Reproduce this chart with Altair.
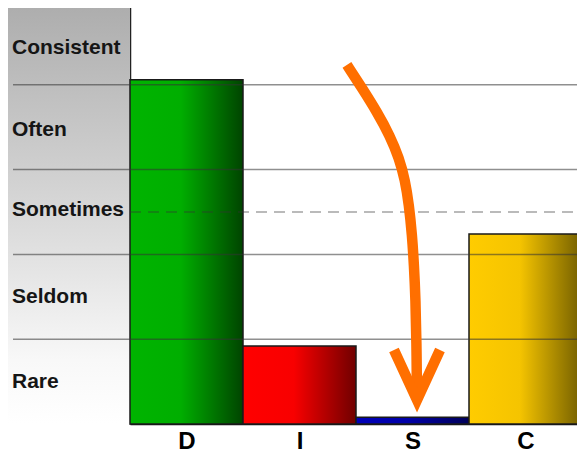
import altair as alt
import pandas as pd

# ---- data ----
categories = ["D", "I", "S", "C"]
values = [4.06, 0.92, 0.08, 2.24]
bar_start = [0, 1, 2, 3]
bar_end = [1, 2, 3, 4]
bar_gradients = [
    ["#00b400", "#00ae00", "#004400"],
    ["#ff0000", "#f80000", "#700000"],
    ["#0000b8", "#0000a8", "#000058"],
    ["#ffcc00", "#f5c400", "#725e00"],
]
level_labels = ["Rare", "Seldom", "Sometimes", "Often", "Consistent"]
level_positions = [0.5, 1.5, 2.52, 3.47, 4.43]
solid_levels = [1, 2, 3, 4]
dashed_levels = [2.5]
panel_stops = ["#acacac", "#d8d8d8", "#f8f8f8", "#ffffff"]
arrow_shaft_x = [1.920, 2.053, 2.186, 2.301, 2.381, 2.434, 2.469, 2.496, 2.513, 2.527, 2.535, 2.540]
arrow_shaft_y = [4.234, 3.962, 3.679, 3.396, 3.137, 2.877, 2.583, 2.229, 1.875, 1.462, 0.991, 0.283]
arrow_head_x = [2.336, 2.540, 2.743]
arrow_head_y = [0.873, 0.283, 0.873]

W, H = 452, 424

bars_df = pd.DataFrame({"cat": categories, "value": values, "start": bar_start, "end": bar_end})
levels_df = pd.DataFrame({"label": level_labels, "pos": level_positions})
solid_df = pd.DataFrame({"lvl": solid_levels})
dashed_df = pd.DataFrame({"lvl": dashed_levels})
panel_df = pd.DataFrame({"top": [5], "bottom": [0]})
shaft_df = pd.DataFrame({"ax": arrow_shaft_x, "ay": arrow_shaft_y, "seq": list(range(len(arrow_shaft_x)))})
head_df = pd.DataFrame({"ax": arrow_head_x, "ay": arrow_head_y, "seq": list(range(len(arrow_head_x)))})

xscale = alt.Scale(domain=[0, 4], nice=False, zero=False)
yscale = alt.Scale(domain=[0, 5], nice=False, zero=False)
label_expr = "[" + ",".join("'%s'" % c for c in categories) + "][floor(datum.value)]"
xaxis = alt.Axis(values=[0.5, 1.5, 2.5, 3.5], labelExpr=label_expr, ticks=False, grid=False,
                 domainColor="#111111", domainWidth=1.5, labelFontSize=24, labelFont="Liberation Sans",
                 labelFontWeight="bold", labelColor="#000000", labelPadding=5, title=None,
                 labelFlush=False, labelOverlap=False)
yaxis = alt.Axis(labels=False, ticks=False, grid=False, domainColor="#222222", domainWidth=1.5, title=None)


def X(f):
    return alt.X(f, scale=xscale, axis=xaxis)


def Y(f):
    return alt.Y(f, scale=yscale, axis=yaxis)


panel = alt.Chart(panel_df).mark_rect(
    color=alt.Gradient(gradient="linear", x1=0, y1=0, x2=0, y2=1,
                       stops=[alt.GradientStop(offset=o, color=c) for o, c in zip([0, 0.5, 0.85, 1], panel_stops)])
).encode(x=alt.value(-130), x2=alt.value(0), y=Y("top:Q"), y2="bottom:Q")

layers = [panel]
for cat, stops in zip(categories, bar_gradients):
    g = alt.Gradient(gradient="linear", x1=0, y1=0, x2=1, y2=0,
                     stops=[alt.GradientStop(offset=o, color=c) for o, c in zip([0, 0.45, 1], stops)])
    layers.append(
        alt.Chart(bars_df).transform_filter(alt.datum.cat == cat)
        .mark_rect(color=g, stroke="#1a1a1a", strokeWidth=1.5)
        .encode(x=X("start:Q"), x2="end:Q", y=Y("value:Q"), y2=alt.datum(0))
    )

solid = alt.Chart(solid_df).mark_rule(color="#333333", opacity=0.55, strokeWidth=1.5).encode(
    y=Y("lvl:Q"), x=alt.value(-117), x2=alt.value(447))
dashed = alt.Chart(dashed_df).mark_rule(color="#333333", opacity=0.45, strokeWidth=1.5, strokeDash=[11, 7]).encode(
    y=Y("lvl:Q"), x=alt.value(0), x2=alt.value(447))
labels = alt.Chart(levels_df).mark_text(align="left", baseline="middle", font="Liberation Sans",
                                        fontSize=21, fontWeight="bold", color="#151515").encode(
    x=alt.value(-118), y=Y("pos:Q"), text="label:N")
shaft = alt.Chart(shaft_df).mark_line(color="#ff6f00", strokeWidth=10.5, strokeCap="butt",
                                      interpolate="basis").encode(
    x=X("ax:Q"), y=Y("ay:Q"), order="seq:Q")
head = alt.Chart(head_df).mark_line(color="#ff6f00", strokeWidth=10.5, strokeCap="butt", strokeJoin="miter").encode(
    x=X("ax:Q"), y=Y("ay:Q"), order="seq:Q")

layers += [solid, dashed, labels, shaft, head]

chart = alt.layer(*layers).properties(
    width=W, height=H,
    padding={"left": -8, "top": -8, "right": -6, "bottom": 0},
).configure_view(stroke=None)

chart.save("out.html", embed_options={"renderer": "svg", "actions": False})
